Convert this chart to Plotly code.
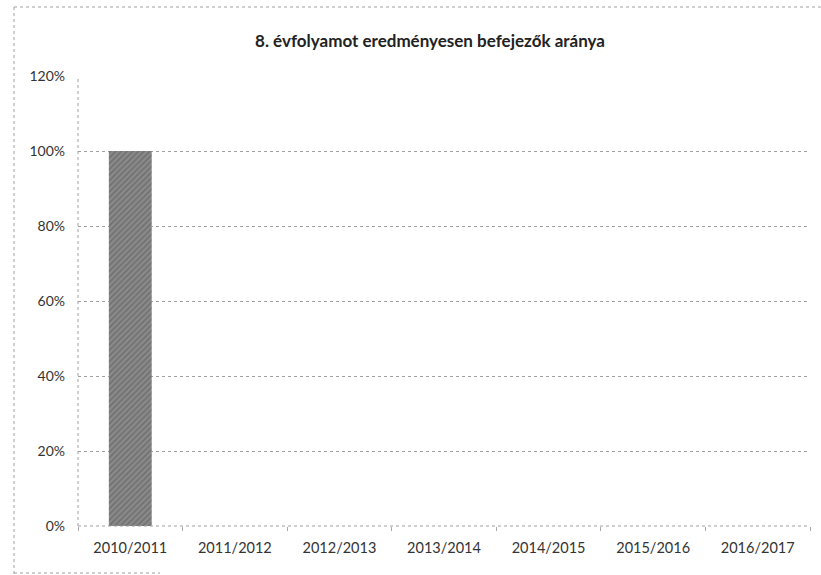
import plotly.graph_objects as go

categories = ["2010/2011", "2011/2012", "2012/2013", "2013/2014", "2014/2015", "2015/2016", "2016/2017"]
values = [1.0, 0, 0, 0, 0, 0, 0]
y_ticks = [0, 0.2, 0.4, 0.6, 0.8, 1.0, 1.2]
y_tick_labels = ["0%", "20%", "40%", "60%", "80%", "100%", "120%"]
title_text = "8. évfolyamot eredményesen befejezők aránya"

W, H = 821, 575
L, R, T, B = 78, 11, 76, 49
pw, ph = W - L - R, H - T - B

def px(x):
    return (x - L) / pw

def py(y):
    return (H - B - y) / ph

fig = go.Figure()
fig.add_trace(go.Bar(
    x=categories, y=values,
    marker=dict(color="#8a8a8a", line=dict(width=0),
                pattern=dict(shape="/", fgcolor="#555555", size=4, solidity=0.4)),
    width=0.41,
))

font = "Lato, 'Open Sans', sans-serif"
fig.update_layout(
    width=W, height=H,
    margin=dict(l=L, r=R, t=T, b=B),
    paper_bgcolor="white", plot_bgcolor="white",
    showlegend=False,
    font=dict(family=font, size=14, color="#333333"),
    title=dict(text="<b>" + title_text + "</b>", x=px(430), xref="paper", xanchor="center",
               y=1 - 41 / H, yanchor="middle", font=dict(size=17, color="#222222")),
)
fig.update_yaxes(range=[0, 1.2], tickvals=y_ticks, ticktext=y_tick_labels,
                 showgrid=True, gridcolor="#a0a0a0", griddash="dot", gridwidth=1,
                 zeroline=False, showline=False, ticks="", ticklabelstandoff=12,
                 tickfont=dict(size=14, color="#333333"))
fig.update_xaxes(showgrid=False, zeroline=False, showline=False,
                 tickson="boundaries", ticks="outside", ticklen=4, tickcolor="#aaaaaa",
                 tickfont=dict(size=14.5, color="#333333"), ticklabelstandoff=11)

line = dict(color="#a0a0a0", width=1, dash="dot")
# y axis line
fig.add_shape(type="line", xref="paper", yref="paper", x0=0, x1=0, y0=0, y1=1, line=line)
# x axis line
fig.add_shape(type="line", xref="paper", yref="paper", x0=0, x1=1, y0=0, y1=0, line=line)
# outer chart border
fig.add_shape(type="line", xref="paper", yref="paper", x0=px(14), x1=px(821), y0=py(7), y1=py(7), line=line)
fig.add_shape(type="line", xref="paper", yref="paper", x0=px(14), x1=px(14), y0=py(7), y1=py(574), line=line)
fig.add_shape(type="line", xref="paper", yref="paper", x0=px(14), x1=px(160), y0=py(573), y1=py(573), line=line)

fig.write_html("out.html", config={"displayModeBar": False},
               post_script="document.body.style.margin='0';")
